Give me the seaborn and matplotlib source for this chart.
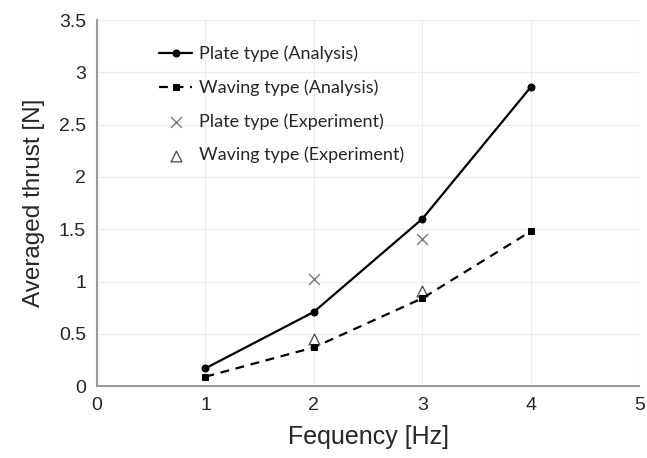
import pandas as pd
import matplotlib
matplotlib.use("Agg")
import matplotlib.pyplot as plt
import seaborn as sns

# --- data ---
freq = [1, 2, 3, 4]
plate_analysis = [0.17, 0.71, 1.60, 2.86]
waving_analysis = [0.09, 0.37, 0.84, 1.48]
freq_exp = [2, 3]
plate_experiment = [1.02, 1.41]
waving_experiment = [0.45, 0.91]

sns.set_theme(style="white")
plt.rcParams['font.family'] = ['Liberation Sans', 'DejaVu Sans']

fig = plt.figure(figsize=(6.47, 4.58), dpi=100)
ax = fig.add_axes([0.15, 0.157, 0.838, 0.799])

sns.lineplot(x=freq, y=plate_analysis, ax=ax, color="black", linewidth=1.6,
             marker="o", markersize=5, markeredgecolor="black",
             label="Plate type (Analysis)")
sns.lineplot(x=freq, y=waving_analysis, ax=ax, color="black", linewidth=1.6,
             linestyle=(0, (4, 3)), marker="s", markersize=5,
             markeredgecolor="black", label="Waving type (Analysis)")
sns.scatterplot(x=freq_exp, y=plate_experiment, ax=ax, marker="x", s=60,
                color="#7a7a7a", linewidth=1.0, label="Plate type (Experiment)")
sns.scatterplot(x=freq_exp, y=waving_experiment, ax=ax, marker="^", s=60,
                facecolor="white", edgecolor="#555555", linewidth=1.0,
                label="Waving type (Experiment)")

ax.set_xlim(0, 5)
ax.set_ylim(0, 3.5)
ax.set_xticks([0, 1, 2, 3, 4, 5])
ax.set_yticks([0, 0.5, 1, 1.5, 2, 2.5, 3, 3.5])
ax.set_yticklabels(["0", "0.5", "1", "1.5", "2", "2.5", "3", "3.5"])
ax.grid(True, color="#ececec", linewidth=0.8)
ax.tick_params(labelsize=14, length=0, pad=8)

for side in ["top", "right"]:
    ax.spines[side].set_visible(False)
for side in ["left", "bottom"]:
    ax.spines[side].set_color("#9a9a9a")
    ax.spines[side].set_linewidth(1.5)

ax.set_xlabel("Fequency [Hz]", fontsize=18, labelpad=8)
ax.set_ylabel("Averaged thrust [N]", fontsize=17.5, labelpad=10)

leg = ax.legend(loc="upper left", bbox_to_anchor=(0.085, 0.975), frameon=False,
                handlelength=1.8, handletextpad=0.4, labelspacing=0.95,
                prop={"family": "Lato", "size": 13})

fig.savefig("out.png", dpi=100)
